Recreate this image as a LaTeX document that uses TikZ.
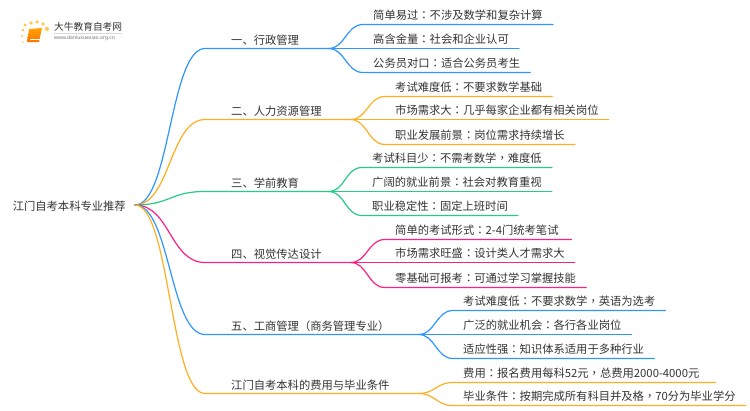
\documentclass[tikz,border=0pt]{standalone}
\usepackage{fontspec}
\usepackage{xcolor}
\setmainfont{Noto Sans CJK SC}
\setsansfont{Noto Sans}
\newfontfamily\midpunct{Noto Sans CJK TC}
\newcommand{\midcolon}{{\midpunct ：}}
\newcommand{\midcomma}{{\midpunct ，}}
\definecolor{wireblue}{HTML}{2E96FF}
\definecolor{wireorange}{HTML}{FFAE1F}
\definecolor{wiregreen}{HTML}{28CB86}
\definecolor{wirepink}{HTML}{FF1F80}
\definecolor{inktext}{HTML}{333333}
\begin{document}
\begin{tikzpicture}[x=1pt, y=-1pt,
  every node/.style={inner sep=0pt, text=inktext, font=\fontsize{11.3}{13}\selectfont},
  rootbox/.style={anchor=east, inner xsep=9pt, text height=12pt, text depth=2pt},
  branchbox/.style={anchor=south west, inner xsep=26pt, inner ysep=2pt, text height=10pt, text depth=2pt, align=left},
  leafbox/.style={anchor=south west, inner xsep=10pt, inner ysep=2pt, text height=10pt, text depth=2.7pt, align=left},
  wire/.style={line width=1.2pt, line cap=round}]
\useasboundingbox (0,0) rectangle (750,410);

\shade[top color=orange!70!yellow, bottom color=orange!90!red] (29,29) -- (42,28) -- (39,42) -- (27,42) -- cycle;
\draw[white, line width=0.5pt] (30,39.5) -- (40,39.5);
\foreach \dotx/\doty/\dotr in {25/25/1.6, 31/23/1.8, 37/22/1.8, 43/24/1.9, 47/29/2.1, 23/30/1.3, 22/36/1.1, 23/42/0.9}
  \fill[orange!60!yellow!70] (\dotx,\doty) circle (\dotr);
\draw[black!15, line width=0.5pt] (54,33) -- (122,33);
\node[anchor=west, font=\fontsize{9.7}{11}\selectfont] (logotitle) at (54,27) {大牛教育自考网};
\node[anchor=west, text=black!55, font=\sffamily\fontsize{5}{6}\selectfont] (logourl) at (54,38.5) {www.daniuxuexiao.org.cn};

\node[rootbox] (root) at (135,205) {江门自考本科专业推荐};

\node[branchbox, text width=71pt] (admin) at (205,48.5) {一、行政管理};
\node[branchbox, text width=93pt] (hr) at (205,119.5) {二、人力资源管理};
\node[branchbox, text width=71pt] (preschool) at (205,191.5) {三、学前教育};
\node[branchbox, text width=93pt] (visual) at (205,262.5) {四、视觉传达设计};
\node[branchbox, text width=161pt] (business) at (205,334.5) {五、工商管理（商务管理专业）};
\node[branchbox, text width=161pt] (fees) at (205,393.5) {江门自考本科的费用与毕业条件};

\node[leafbox] (adminA) at (363,24.5) {简单易过\midcolon 不涉及数学和复杂计算};
\node[leafbox] (adminB) at (363,48.5) {高含金量\midcolon 社会和企业认可};
\node[leafbox] (adminC) at (363,72.5) {公务员对口\midcolon 适合公务员考生};
\node[leafbox] (hrA) at (385,96.5) {考试难度低\midcolon 不要求数学基础};
\node[leafbox] (hrB) at (385,119.5) {市场需求大\midcolon 几乎每家企业都有相关岗位};
\node[leafbox] (hrC) at (385,144.5) {职业发展前景\midcolon 岗位需求持续增长};
\node[leafbox] (preschoolA) at (362,167.5) {考试科目少\midcolon 不需考数学\midcomma 难度低};
\node[leafbox] (preschoolB) at (362,191.5) {广阔的就业前景\midcolon 社会对教育重视};
\node[leafbox] (preschoolC) at (362,215.5) {职业稳定性\midcolon 固定上班时间};
\node[leafbox, text width=166pt] (visualA) at (385,239.5) {简单的考试形式\midcolon 2-4门统考笔试};
\node[leafbox] (visualB) at (385,262.5) {市场需求旺盛\midcolon 设计类人才需求大};
\node[leafbox] (visualC) at (385,287.5) {零基础可报考\midcolon 可通过学习掌握技能};
\node[leafbox] (businessA) at (453,310.5) {考试难度低\midcolon 不要求数学\midcomma 英语为选考};
\node[leafbox] (businessB) at (453,334.5) {广泛的就业机会\midcolon 各行各业岗位};
\node[leafbox] (businessC) at (453,358.5) {适应性强\midcolon 知识体系适用于多种行业};
\node[leafbox, text width=242pt] (feesA) at (453,382.5) {费用\midcolon 报名费用每科52元\midcomma 总费用2000-4000元};
\node[leafbox] (feesB) at (453,405.5) {毕业条件\midcolon 按期完成所有科目并及格\midcomma 70分为毕业学分};

\draw[wire, wireblue] (root.east) .. controls +(35,0) and +(-35,0) .. (admin.south west) -- (admin.south east);
\draw[wire, wireorange] (root.east) .. controls +(35,0) and +(-35,0) .. (hr.south west) -- (hr.south east);
\draw[wire, wiregreen] (root.east) .. controls +(35,0) and +(-35,0) .. (preschool.south west) -- (preschool.south east);
\draw[wire, wirepink] (root.east) .. controls +(35,0) and +(-35,0) .. (visual.south west) -- (visual.south east);
\draw[wire, wireblue] (root.east) .. controls +(35,0) and +(-35,0) .. (business.south west) -- (business.south east);
\draw[wire, wireorange] (root.east) .. controls +(35,0) and +(-35,0) .. (fees.south west) -- (fees.south east);

\draw[wire, wireblue] (admin.south east) .. controls +(17,0) and +(-17,0) .. (adminA.south west) -- (adminA.south east);
\draw[wire, wireblue] (admin.south east) -- (adminB.south west) -- (adminB.south east);
\draw[wire, wireblue] (admin.south east) .. controls +(17,0) and +(-17,0) .. (adminC.south west) -- (adminC.south east);
\draw[wire, wireorange] (hr.south east) .. controls +(17,0) and +(-17,0) .. (hrA.south west) -- (hrA.south east);
\draw[wire, wireorange] (hr.south east) -- (hrB.south west) -- (hrB.south east);
\draw[wire, wireorange] (hr.south east) .. controls +(17,0) and +(-17,0) .. (hrC.south west) -- (hrC.south east);
\draw[wire, wiregreen] (preschool.south east) .. controls +(17,0) and +(-17,0) .. (preschoolA.south west) -- (preschoolA.south east);
\draw[wire, wiregreen] (preschool.south east) -- (preschoolB.south west) -- (preschoolB.south east);
\draw[wire, wiregreen] (preschool.south east) .. controls +(17,0) and +(-17,0) .. (preschoolC.south west) -- (preschoolC.south east);
\draw[wire, wirepink] (visual.south east) .. controls +(17,0) and +(-17,0) .. (visualA.south west) -- (visualA.south east);
\draw[wire, wirepink] (visual.south east) -- (visualB.south west) -- (visualB.south east);
\draw[wire, wirepink] (visual.south east) .. controls +(17,0) and +(-17,0) .. (visualC.south west) -- (visualC.south east);
\draw[wire, wireblue] (business.south east) .. controls +(17,0) and +(-17,0) .. (businessA.south west) -- (businessA.south east);
\draw[wire, wireblue] (business.south east) -- (businessB.south west) -- (businessB.south east);
\draw[wire, wireblue] (business.south east) .. controls +(17,0) and +(-17,0) .. (businessC.south west) -- (businessC.south east);
\draw[wire, wireorange] (fees.south east) .. controls +(17,0) and +(-17,0) .. (feesA.south west) -- (feesA.south east);
\draw[wire, wireorange] (fees.south east) .. controls +(17,0) and +(-17,0) .. (feesB.south west) -- (feesB.south east);
\end{tikzpicture}
\end{document}
